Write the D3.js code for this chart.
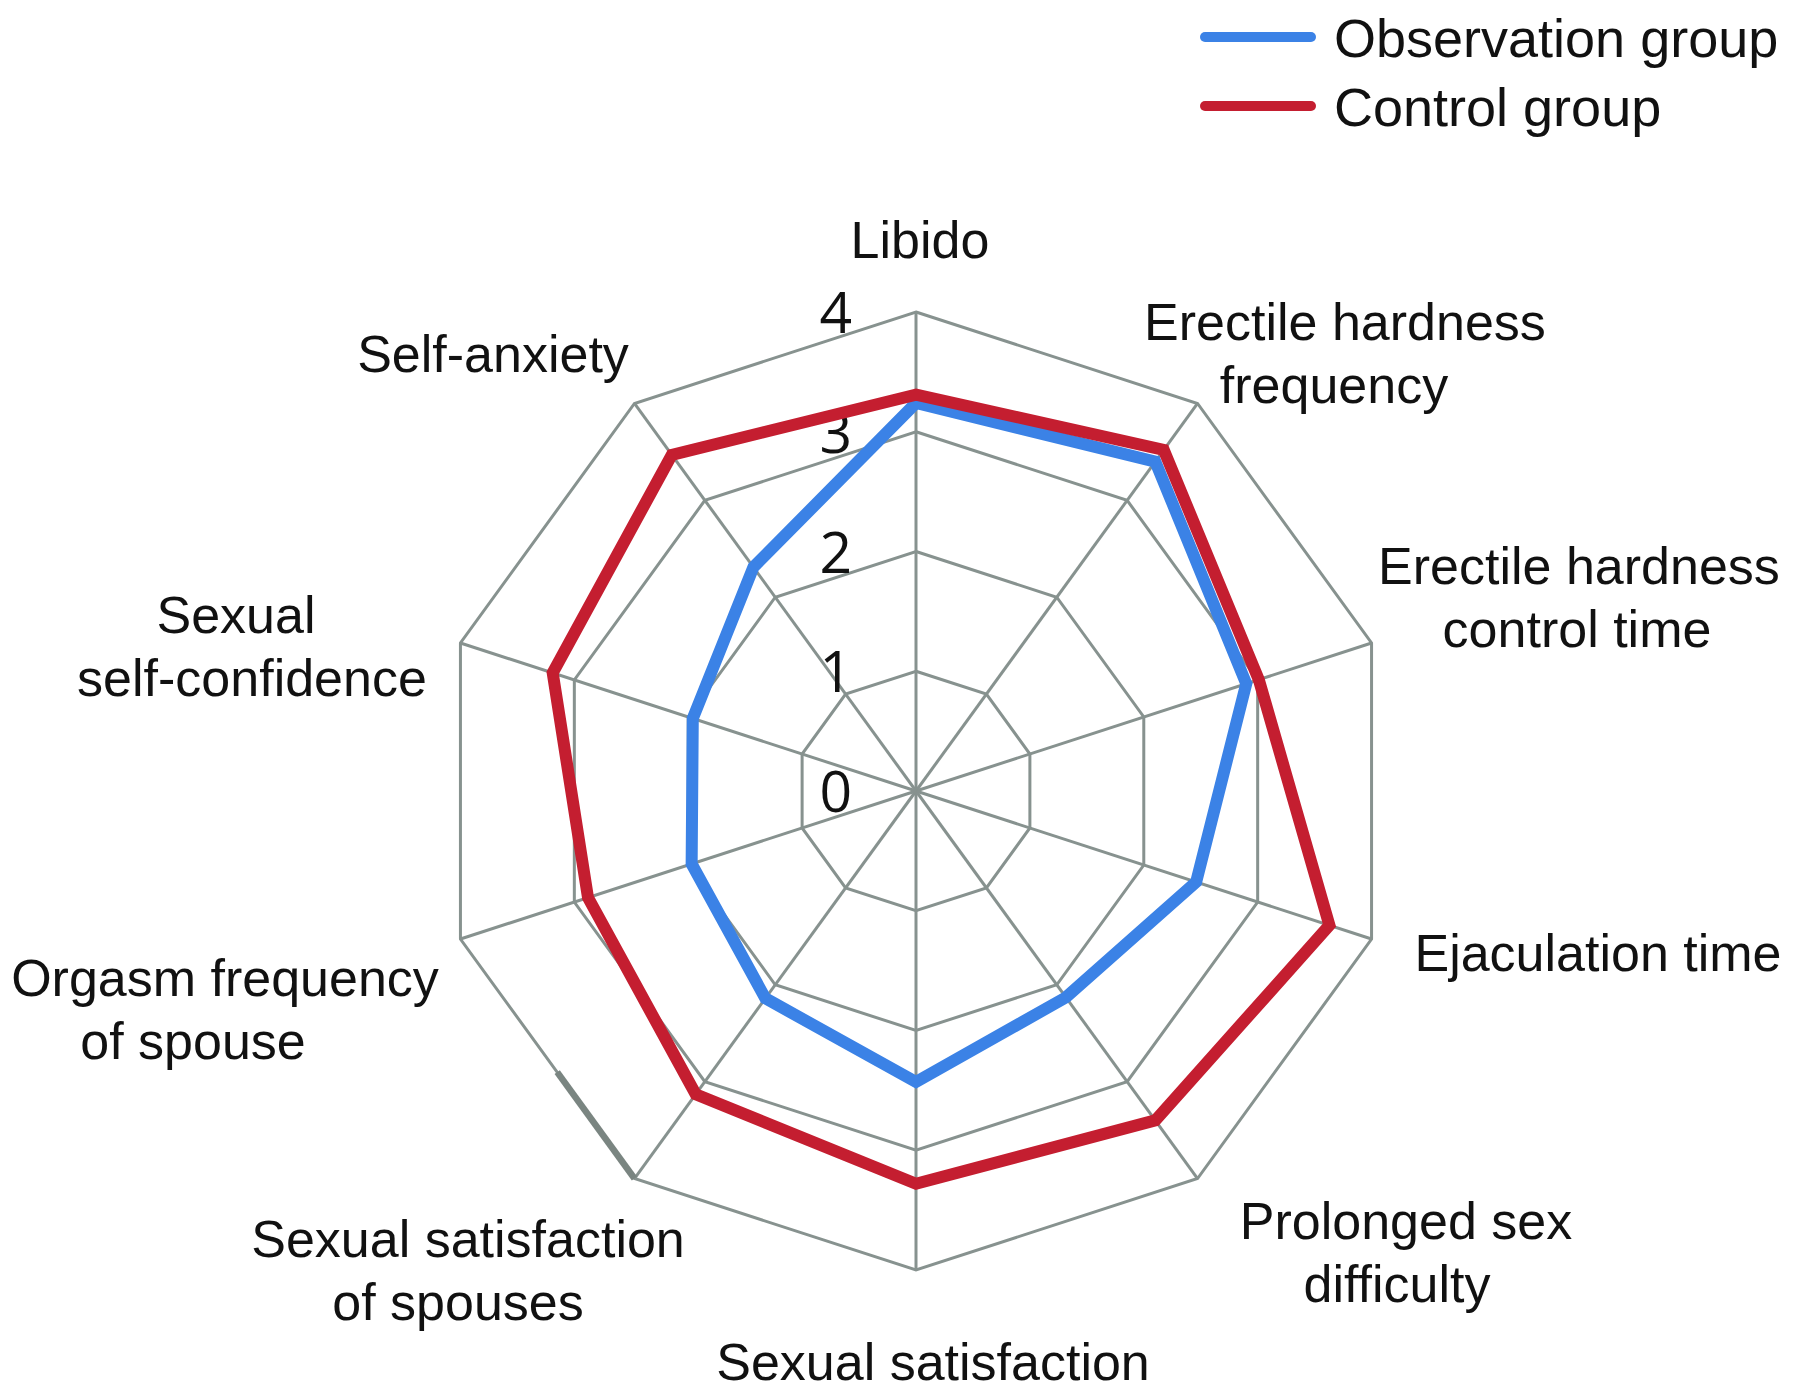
<!DOCTYPE html>
<html lang="en">
<head>
<meta charset="utf-8">
<title>Radar - sexual function scores</title>
<style>
  html, body { margin: 0; padding: 0; background: #fff; }
  #chart svg { display: block; }
  .axis-label { font-family: "Liberation Sans", Arial, sans-serif; font-size: 52px; fill: #111; }
  .tick-label { font-family: "Open Sans", "Noto Sans", sans-serif; font-size: 57px; fill: #111; }
  .legend-label { font-family: "Liberation Sans", Arial, sans-serif; font-size: 54px; fill: #111; }
</style>
</head>
<body>
<div id="chart"></div>
<script src="https://d3js.org/d3.v7.min.js"></script>
<script>
  // categories, clockwise from the top
  const categories = [
    ["Libido"],
    ["Erectile hardness", "frequency"],
    ["Erectile hardness", "control time"],
    ["Ejaculation time"],
    ["Prolonged sex", "difficulty"],
    ["Sexual satisfaction"],
    ["Sexual satisfaction", "of spouses"],
    ["Orgasm frequency", "of spouse"],
    ["Sexual", "self-confidence"],
    ["Self-anxiety"]
  ];
  const seriesNames = ["Observation group", "Control group"];
  const observation = [3.24, 3.40, 2.90, 2.46, 2.13, 2.43, 2.14, 1.97, 1.96, 2.31];
  const control     = [3.31, 3.52, 3.01, 3.63, 3.40, 3.28, 3.13, 2.88, 3.19, 3.47];
  const ticks = [0, 1, 2, 3, 4];

  const drawRadar = () => {
    const width = 1795;
    const height = 1396;
    const cx = 916, cy = 791;
    const maxR = 479;

    const colors = ["#3b82e6", "#c41e30"];
    const gridColor = "#87928f";

    // label placement (offsets from the centre), one entry per category
    const labelLayout = [
      {dx: [4], dy: -533},
      {dx: [429, 418], dy: -451},
      {dx: [663, 661], dy: -207},
      {dx: [682], dy: 180},
      {dx: [490, 481], dy: 448},
      {dx: [17], dy: 589},
      {dx: [-448, -458], dy: 466},
      {dx: [-691, -723], dy: 205},
      {dx: [-680, -664], dy: -158},
      {dx: [-423], dy: -419}
    ];
    const lineHeight = 63;

    const r = d3.scaleLinear().domain([0, 4]).range([0, maxR]);
    const angle = d3.scaleLinear().domain([0, categories.length]).range([0, 2 * Math.PI]);
    const point = (i, v) => [cx + r(v) * Math.sin(angle(i)), cy - r(v) * Math.cos(angle(i))];

    const svg = d3.select("#chart").append("svg")
        .attr("width", width)
        .attr("height", height)
        .attr("viewBox", [0, 0, width, height]);

    const idx = d3.range(categories.length);
    const line = d3.line().curve(d3.curveLinearClosed);

    // grid rings
    svg.append("g")
        .attr("fill", "none")
        .attr("stroke", gridColor)
        .attr("stroke-width", 3)
        .selectAll("path")
        .data(ticks.filter(t => t > 0))
        .join("path")
        .attr("d", t => line(idx.map(i => point(i, t))));

    // spokes
    svg.append("g")
        .attr("stroke", gridColor)
        .attr("stroke-width", 3)
        .selectAll("line")
        .data(idx)
        .join("line")
        .attr("x1", cx)
        .attr("y1", cy)
        .attr("x2", i => point(i, 4)[0])
        .attr("y2", i => point(i, 4)[1]);

    // darker piece of the outer edge (as in the source figure)
    const a = point(7, 4), b = point(6, 4);
    const lerp = d3.interpolateArray(a, b);
    svg.append("line")
        .attr("x1", lerp(0.556)[0]).attr("y1", lerp(0.556)[1])
        .attr("x2", b[0]).attr("y2", b[1])
        .attr("stroke", "#7a8581")
        .attr("stroke-width", 6.5);

    // tick labels
    svg.append("g")
        .selectAll("text")
        .data(ticks)
        .join("text")
        .attr("class", "tick-label")
        .attr("x", cx - 64)
        .attr("y", t => cy - r(t) + 21)
        .attr("text-anchor", "end")
        .text(t => t);

    // series
    svg.append("g")
        .attr("fill", "none")
        .selectAll("path")
        .data([observation, control])
        .join("path")
        .attr("d", vals => line(vals.map((v, i) => point(i, v))))
        .attr("stroke", (d, k) => colors[k])
        .attr("stroke-width", 12)
        .attr("stroke-linejoin", "miter");

    // axis labels
    svg.append("g")
        .selectAll("text")
        .data(categories)
        .join("text")
        .attr("class", "axis-label")
        .attr("text-anchor", "middle")
        .each(function(lines, i) {
          const lay = labelLayout[i];
          d3.select(this).selectAll("tspan")
            .data(lines)
            .join("tspan")
            .attr("x", (s, j) => cx + lay.dx[j])
            .attr("y", (s, j) => cy + lay.dy + j * lineHeight)
            .text(s => s);
        });

    // legend
    const legend = svg.append("g")
        .selectAll("g")
        .data(seriesNames)
        .join("g")
        .attr("transform", (d, k) => `translate(1205, ${37 + k * 69})`);
    legend.append("line")
        .attr("x1", 0).attr("x2", 106)
        .attr("stroke", (d, k) => colors[k])
        .attr("stroke-width", 10)
        .attr("stroke-linecap", "round");
    legend.append("text")
        .attr("class", "legend-label")
        .attr("x", 129)
        .attr("y", 20)
        .text(d => d);
  };

  if (document.readyState !== 'loading') drawRadar();
  else document.addEventListener('DOMContentLoaded', drawRadar);
</script>
</body>
</html>
